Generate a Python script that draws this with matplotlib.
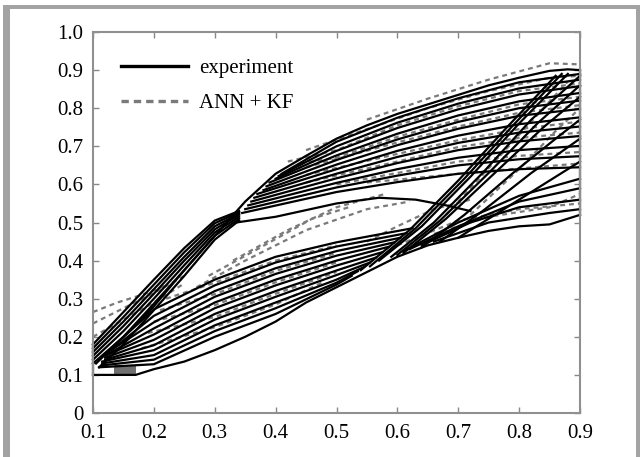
import matplotlib
matplotlib.use("Agg")
import matplotlib.pyplot as plt
from matplotlib.patches import Rectangle

plt.rcParams['font.family'] = ['Liberation Serif', 'DejaVu Serif']

# ---- experiment (solid) ----
env_top = [(0.10, 0.13), (0.15, 0.20), (0.20, 0.28), (0.25, 0.375), (0.30, 0.465),
           (0.35, 0.555), (0.40, 0.628), (0.45, 0.675), (0.50, 0.72), (0.55, 0.755),
           (0.60, 0.785), (0.65, 0.81), (0.70, 0.835), (0.75, 0.86), (0.80, 0.88),
           (0.85, 0.898), (0.88, 0.902), (0.90, 0.90)]
env_bot = [(0.10, 0.10), (0.17, 0.10), (0.20, 0.115), (0.25, 0.135), (0.30, 0.165),
           (0.35, 0.20), (0.40, 0.24), (0.45, 0.29), (0.50, 0.33), (0.55, 0.37),
           (0.60, 0.41), (0.65, 0.44), (0.70, 0.46), (0.75, 0.478), (0.80, 0.49),
           (0.85, 0.495), (0.90, 0.52)]
right_turn = [(0.90, 0.52), (0.90, 0.90)]
left_turn = [(0.10, 0.10), (0.10, 0.18)]

band = [
    [(0.10, 0.18), (0.15, 0.265), (0.20, 0.35), (0.25, 0.433), (0.30, 0.505), (0.34, 0.53)],
    [(0.10, 0.17), (0.15, 0.252), (0.20, 0.337), (0.25, 0.422), (0.30, 0.498), (0.34, 0.527)],
    [(0.10, 0.16), (0.15, 0.24), (0.20, 0.325), (0.25, 0.41), (0.30, 0.49), (0.34, 0.523)],
    [(0.10, 0.15), (0.15, 0.228), (0.20, 0.313), (0.25, 0.40), (0.30, 0.482), (0.34, 0.52)],
    [(0.10, 0.14), (0.15, 0.215), (0.20, 0.30), (0.25, 0.388), (0.30, 0.474), (0.34, 0.515)],
    [(0.105, 0.13), (0.15, 0.20), (0.20, 0.287), (0.25, 0.375), (0.30, 0.465), (0.34, 0.51)],
    [(0.11, 0.12), (0.15, 0.18), (0.20, 0.27), (0.25, 0.36), (0.30, 0.455), (0.34, 0.505)],
]

# upper fan: start point on the rising branch, then values on a common grid
uf_start_x = [0.41, 0.405, 0.40, 0.39, 0.385, 0.38, 0.37, 0.365, 0.36, 0.355, 0.35, 0.345]
uf_start_y = [0.628, 0.622, 0.615, 0.605, 0.595, 0.585, 0.575, 0.565, 0.555, 0.545, 0.535, 0.525]
uf_grid_x = [0.50, 0.60, 0.70, 0.80, 0.90]
uf_y = [
    [0.712, 0.775, 0.826, 0.868, 0.890],
    [0.700, 0.762, 0.812, 0.852, 0.875],
    [0.688, 0.748, 0.797, 0.836, 0.858],
    [0.676, 0.733, 0.781, 0.818, 0.840],
    [0.664, 0.718, 0.764, 0.800, 0.820],
    [0.652, 0.703, 0.746, 0.780, 0.798],
    [0.640, 0.688, 0.728, 0.758, 0.776],
    [0.628, 0.672, 0.709, 0.736, 0.752],
    [0.616, 0.656, 0.690, 0.713, 0.727],
    [0.604, 0.640, 0.670, 0.690, 0.701],
    [0.592, 0.623, 0.650, 0.666, 0.674],
    [0.580, 0.606, 0.628, 0.640, 0.645],
]
uf_lowest = [(0.335, 0.50), (0.40, 0.515), (0.50, 0.55), (0.57, 0.565), (0.63, 0.56),
             (0.68, 0.545), (0.72, 0.53)]

right_low = [
    [(0.61, 0.425), (0.70, 0.50), (0.80, 0.57), (0.90, 0.615)],
    [(0.62, 0.43), (0.70, 0.49), (0.80, 0.555), (0.90, 0.59)],
    [(0.64, 0.44), (0.72, 0.50), (0.80, 0.54), (0.90, 0.56)],
    [(0.66, 0.45), (0.75, 0.50), (0.85, 0.525), (0.90, 0.535)],
]

steep = [
    [(0.54, 0.375), (0.62, 0.48), (0.70, 0.61), (0.78, 0.75), (0.86, 0.885)],
    [(0.555, 0.385), (0.63, 0.485), (0.71, 0.615), (0.79, 0.755), (0.87, 0.89)],
    [(0.57, 0.40), (0.64, 0.49), (0.72, 0.62), (0.80, 0.76), (0.88, 0.89)],
    [(0.59, 0.41), (0.66, 0.50), (0.74, 0.63), (0.82, 0.77), (0.90, 0.885)],
    [(0.60, 0.415), (0.67, 0.505), (0.75, 0.63), (0.83, 0.76), (0.90, 0.86)],
    [(0.61, 0.42), (0.68, 0.51), (0.76, 0.63), (0.84, 0.75), (0.90, 0.83)],
    [(0.64, 0.435), (0.71, 0.52), (0.79, 0.63), (0.86, 0.72), (0.90, 0.77)],
    [(0.67, 0.45), (0.74, 0.53), (0.82, 0.63), (0.90, 0.72)],
    [(0.70, 0.46), (0.78, 0.54), (0.86, 0.62), (0.90, 0.66)],
]

# lower fan: start point near the lower-left corner, values on a common grid, end point
lf_start_x = [0.13, 0.13, 0.125, 0.125, 0.12, 0.12, 0.12, 0.115, 0.115, 0.115, 0.11]
lf_start_y = [0.17, 0.165, 0.16, 0.155, 0.15, 0.145, 0.14, 0.135, 0.13, 0.125, 0.12]
lf_grid_x = [0.20, 0.30, 0.40, 0.50]
lf_y = [
    [0.272, 0.350, 0.410, 0.448],
    [0.255, 0.335, 0.395, 0.437],
    [0.238, 0.320, 0.380, 0.425],
    [0.222, 0.305, 0.365, 0.413],
    [0.206, 0.290, 0.350, 0.400],
    [0.192, 0.275, 0.335, 0.387],
    [0.178, 0.260, 0.320, 0.374],
    [0.165, 0.245, 0.305, 0.362],
    [0.152, 0.230, 0.290, 0.350],
    [0.140, 0.215, 0.275, 0.342],
    [0.128, 0.200, 0.260, 0.337],
]
lf_end_x = [0.625, 0.615, 0.605, 0.595, 0.585, 0.575, 0.565, 0.555, 0.545, 0.535, 0.525]
lf_end_y = [0.485, 0.472, 0.46, 0.448, 0.436, 0.422, 0.408, 0.395, 0.383, 0.372, 0.36]

# ---- ANN + KF (dashed) ----
ann = [
    [(0.55, 0.77), (0.65, 0.825), (0.75, 0.875), (0.85, 0.918), (0.90, 0.915)],
    [(0.45, 0.69), (0.55, 0.745), (0.65, 0.80), (0.75, 0.845), (0.85, 0.88), (0.90, 0.885)],
    [(0.10, 0.20), (0.15, 0.245), (0.20, 0.29), (0.25, 0.34)],
    [(0.10, 0.235), (0.15, 0.275), (0.20, 0.315), (0.25, 0.36)],
    [(0.10, 0.265), (0.14, 0.29), (0.18, 0.31), (0.22, 0.335)],
    [(0.27, 0.33), (0.35, 0.40), (0.45, 0.48), (0.55, 0.535), (0.62, 0.555)],
    [(0.29, 0.36), (0.37, 0.43), (0.46, 0.51), (0.52, 0.54)],
    [(0.33, 0.40), (0.42, 0.48), (0.50, 0.54), (0.58, 0.575)],
    [(0.55, 0.45), (0.60, 0.49), (0.66, 0.535), (0.72, 0.56)],
    [(0.42, 0.66), (0.50, 0.69), (0.60, 0.755), (0.70, 0.805), (0.80, 0.845), (0.90, 0.865)],
    [(0.44, 0.655), (0.50, 0.67), (0.60, 0.725), (0.70, 0.77), (0.80, 0.81), (0.90, 0.83)],
    [(0.45, 0.645), (0.60, 0.71), (0.70, 0.752), (0.80, 0.788), (0.90, 0.808)],
    [(0.45, 0.625), (0.60, 0.68), (0.70, 0.716), (0.80, 0.745), (0.90, 0.765)],
    [(0.45, 0.605), (0.60, 0.66), (0.70, 0.698), (0.80, 0.722), (0.90, 0.736)],
    [(0.50, 0.60), (0.60, 0.63), (0.70, 0.66), (0.80, 0.675), (0.90, 0.685)],
    [(0.55, 0.605), (0.65, 0.62), (0.75, 0.635), (0.90, 0.655)],
    [(0.22, 0.30), (0.30, 0.342), (0.40, 0.40), (0.50, 0.44)],
    [(0.21, 0.27), (0.30, 0.312), (0.40, 0.373), (0.50, 0.42)],
    [(0.20, 0.24), (0.30, 0.283), (0.40, 0.343), (0.50, 0.395)],
    [(0.19, 0.21), (0.30, 0.252), (0.40, 0.313), (0.50, 0.37)],
    [(0.18, 0.17), (0.30, 0.225), (0.40, 0.285), (0.48, 0.345)],
    [(0.60, 0.44), (0.70, 0.505), (0.80, 0.535), (0.90, 0.55)],
    [(0.66, 0.47), (0.75, 0.515), (0.85, 0.54), (0.90, 0.575)],
    [(0.68, 0.52), (0.76, 0.66), (0.84, 0.80), (0.88, 0.87)],
    [(0.72, 0.52), (0.80, 0.64), (0.86, 0.74), (0.90, 0.80)],
]
ann_patch_x = [0.135, 0.17]
ann_patch_y = [0.113, 0.113]

xticks = [0.1, 0.2, 0.3, 0.4, 0.5, 0.6, 0.7, 0.8, 0.9]
yticks = [0, 0.1, 0.2, 0.3, 0.4, 0.5, 0.6, 0.7, 0.8, 0.9, 1.0]
ylabels = ['0', '0.1', '0.2', '0.3', '0.4', '0.5', '0.6', '0.7', '0.8', '0.9', '1.0']

fig = plt.figure(figsize=(6.4, 4.57), dpi=100)
ax = fig.add_axes([93 / 640, 44 / 457, 487 / 640, 381 / 457])

solid = dict(color='black', lw=1.6, solid_joinstyle='round')
dash = dict(color='#7a7a7a', lw=1.6, ls=(0, (2.2, 1.8)))

ax.plot(ann_patch_x, ann_patch_y, color='#707070', lw=7, solid_capstyle='butt')
for c in ann:
    xs, ys = zip(*c)
    ax.plot(xs, ys, **dash)

curves = [env_top, env_bot, uf_lowest, right_turn, left_turn] + band + right_low + steep
for sx, sy, row in zip(uf_start_x, uf_start_y, uf_y):
    curves.append([(sx, sy)] + list(zip(uf_grid_x, row)))
for sx, sy, row, ex, ey in zip(lf_start_x, lf_start_y, lf_y, lf_end_x, lf_end_y):
    curves.append([(sx, sy)] + list(zip(lf_grid_x, row)) + [(ex, ey)])
for c in curves:
    xs, ys = zip(*c)
    ax.plot(xs, ys, clip_on=False, **solid)

# legend entries
ax.plot([], [], color='black', lw=2.4, label='experiment')
ax.plot([], [], color='#7a7a7a', lw=2.4, ls=(0, (2.2, 1.5)), label='ANN + KF')
ax.legend(loc='upper left', bbox_to_anchor=(0.058, 0.93), frameon=False,
          fontsize=15, handlelength=3.2, handletextpad=0.55,
          labelspacing=0.75, borderpad=0, borderaxespad=0)

ax.set_xlim(0.1, 0.9)
ax.set_ylim(0, 1.0)
ax.set_xticks(xticks)
ax.set_xticklabels([f'{t:.1f}' for t in xticks])
ax.set_yticks(yticks)
ax.set_yticklabels(ylabels)
ax.tick_params(direction='in', length=4, width=1, color='#888888',
               top=True, right=True, labelsize=15, pad=7)
ax.tick_params(axis='x', pad=8)
for s in ax.spines.values():
    s.set_color('#909090')
    s.set_linewidth(1.5)

# outer gray frame
frame = '#a3a3a3'
fig.add_artist(Rectangle((3 / 640, 0), 7 / 640, 452 / 457, transform=fig.transFigure,
                         color=frame, lw=0))
fig.add_artist(Rectangle((3 / 640, 448 / 457), 637 / 640, 4 / 457, transform=fig.transFigure,
                         color=frame, lw=0))
fig.add_artist(Rectangle((636 / 640, 0), 4 / 640, 452 / 457, transform=fig.transFigure,
                         color=frame, lw=0))

fig.savefig('out.png', dpi=100)
